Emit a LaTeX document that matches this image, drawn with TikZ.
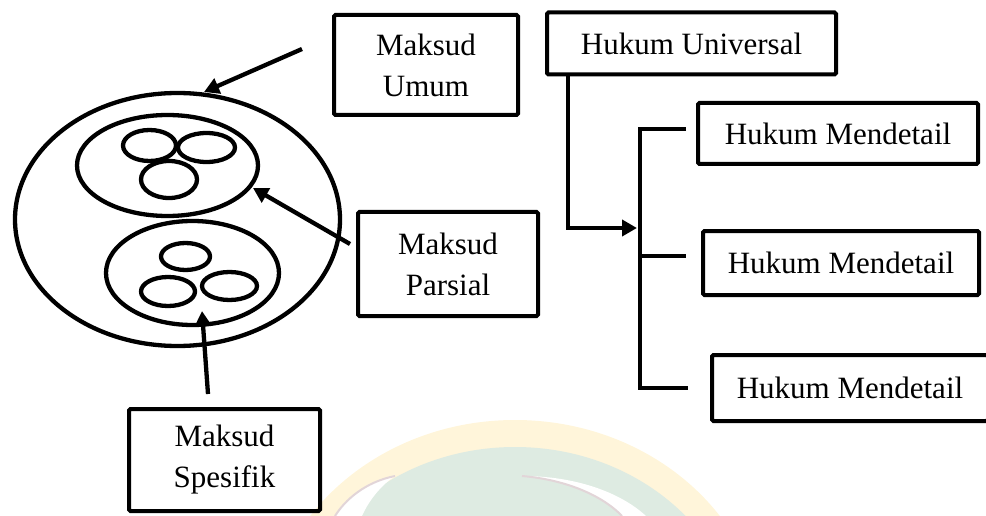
\documentclass[tikz,border=0pt]{standalone}
\usepackage{fontspec}
\setmainfont{Liberation Serif}
\usetikzlibrary{arrows.meta}
\definecolor{wmyellow}{HTML}{FFF5DA}
\definecolor{wmgreen}{HTML}{DEEBE2}
\definecolor{wmgray}{HTML}{E2D5D8}
\tikzset{
  box/.style={draw=black, line width=4pt, rectangle, rounded corners=1.5pt, inner sep=0pt,
    align=center, font=\fontsize{31}{41}\selectfont},
  ring/.style={draw=black, line width=4.3pt},
  link/.style={draw=black, line width=4.3pt},
  arr/.style={link, -{Triangle[length=15pt,width=16pt]}},
}
\begin{document}
\begin{tikzpicture}[x=1pt,y=-1pt]
\useasboundingbox (0,0) rectangle (986,516);
% faint watermark
\begin{scope}
\clip (0,0) rectangle (986,516);
\fill[wmyellow] (515,645) ellipse [x radius=250pt, y radius=225pt];
\fill[wmgreen] (515,652) ellipse [x radius=228pt, y radius=205pt];
\fill[white] (395,476) .. controls (365,482) and (345,500) .. (335,516) -- (362,516) .. controls (370,498) and (383,484) .. (395,476) -- cycle;
\draw[wmgray, line width=2pt] (395,476) .. controls (365,482) and (345,500) .. (335,516);
\fill[white] (522,476) .. controls (570,480) and (605,498) .. (622,516) -- (646,516) .. controls (620,492) and (575,476) .. (522,476) -- cycle;
\draw[wmgray, line width=2pt] (522,476) .. controls (570,480) and (605,498) .. (622,516);
\end{scope}
% circles
\draw[ring] (177.5,219.5) ellipse [x radius=162.5pt, y radius=126.5pt];
\draw[ring] (167.5,165.5) ellipse [x radius=90.5pt, y radius=50.5pt];
\draw[ring] (192.5,273) ellipse [x radius=86.5pt, y radius=52pt];
\draw[ring] (149.5,145.5) ellipse [x radius=26.5pt, y radius=15.5pt];
\draw[ring] (206.5,147.5) ellipse [x radius=28.5pt, y radius=14.5pt];
\draw[ring] (169,179.5) ellipse [x radius=28pt, y radius=18.5pt];
\draw[ring] (185.5,256.5) ellipse [x radius=24.5pt, y radius=13.5pt];
\draw[ring] (168,291.5) ellipse [x radius=27pt, y radius=14.5pt];
\draw[ring] (229.5,286) ellipse [x radius=27.5pt, y radius=14pt];
% boxes
\node[box, minimum width=184pt, minimum height=100pt] (umum) at (426,65) {Maksud\\Umum};
\node[box, minimum width=180pt, minimum height=104pt] (parsial) at (448,264) {Maksud\\Parsial};
\node[box, minimum width=191pt, minimum height=102pt] (spesifik) at (224.5,460) {Maksud\\Spesifik};
\node[box, minimum width=289pt, minimum height=62pt] (univ) at (691.5,43.5) {Hukum Universal};
\node[box, minimum width=280pt, minimum height=61pt] (md1) at (838,133.5) {Hukum Mendetail};
\node[box, minimum width=276pt, minimum height=64pt] (md2) at (841,263) {Hukum Mendetail};
\node[box, minimum width=276pt, minimum height=66pt] (md3) at (850,388) {Hukum Mendetail};
% arrow coordinates
\coordinate (umumS) at (302,49);
\coordinate (outerT) at (204,92);
\coordinate (parsialS) at (350,244);
\coordinate (innerT) at (253,188);
\coordinate (spesifikS) at (208,394);
\coordinate (lowerT) at (202,311);
\coordinate (univS) at ([xshift=23pt]univ.south west);
\coordinate (brMid) at (637,228);
\coordinate (brTop) at (640,129);
\coordinate (brBot) at (640,388);
\coordinate (brC) at (640,256);
\coordinate (e1) at (686,129);
\coordinate (e2) at (686,256);
\coordinate (e3) at (688,388);
% connectors
\draw[arr] (umumS) -- (outerT);
\draw[arr] (parsialS) -- (innerT);
\draw[arr] (spesifikS) -- (lowerT);
\draw[arr] (univS) |- (brMid);
\draw[link] (e1) -- (brTop) -- (brBot) -- (e3);
\draw[link] (brC) -- (e2);
\end{tikzpicture}
\end{document}
